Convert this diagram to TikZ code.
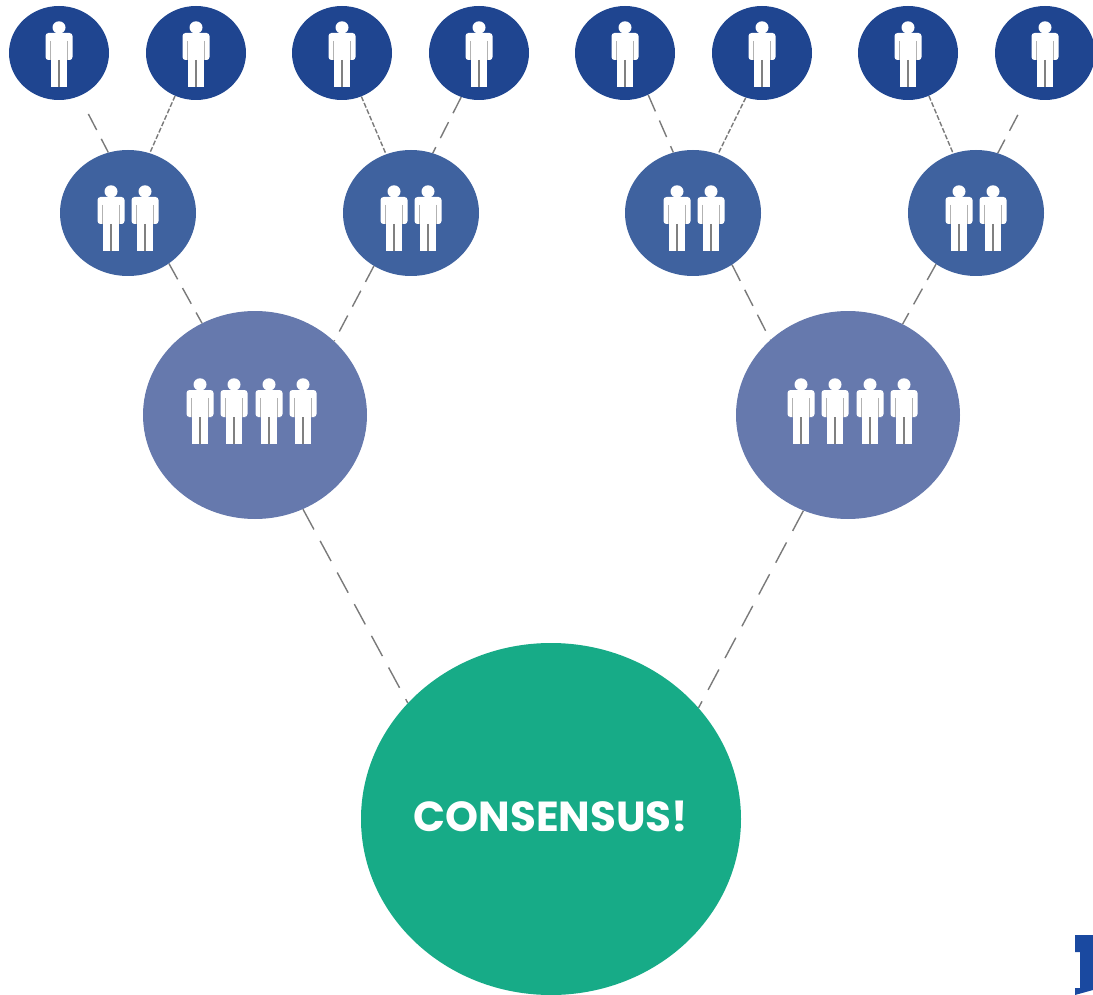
\documentclass[tikz,border=0pt]{standalone}
\usepackage{fontspec}
\setmainfont{Poppins}
\usetikzlibrary{shapes.geometric,backgrounds}
\definecolor{topblue}{HTML}{1F4590}
\definecolor{midblue}{HTML}{3F629F}
\definecolor{bigblue}{HTML}{6679AD}
\definecolor{consgreen}{HTML}{17AB87}
\definecolor{logoblue}{HTML}{1A49A0}
\definecolor{linkgrey}{HTML}{7A7A7A}
\tikzset{
  blob/.style={shape=ellipse,inner sep=0pt,draw=none},
  topnode/.style={blob,fill=topblue,minimum width=100pt,minimum height=94pt},
  midnode/.style={blob,fill=midblue,minimum width=136pt,minimum height=126pt},
  bignode/.style={blob,fill=bigblue,minimum width=224pt,minimum height=208pt},
  consnode/.style={blob,fill=consgreen,minimum width=380pt,minimum height=352pt},
  link/.style={draw=linkgrey,line width=1.4pt},
  longdash/.style={link,dash pattern=on 23pt off 13pt},
  middash/.style={link,dash pattern=on 18pt off 10pt},
  fine/.style={link,dash pattern=on 5pt off 2pt},
  person/.pic={
    \fill[white] (0,6.5) ellipse (6.5 and 6.2);
    \fill[white,rounded corners=3pt] (-13.5,39) -- (-13.5,12) -- (13.5,12) -- (13.5,39) -- (8.5,39) -- (-8.5,39) -- cycle;
    \fill[white] (-8.2,30) rectangle (8.2,66);
    \draw[gray,line width=1.1pt] (0,39) -- (0,66);
    \draw[gray!60,line width=.9pt] (-8.3,20) -- (-8.3,39) (8.3,20) -- (8.3,39);
  }
}
\begin{document}
\begin{tikzpicture}[x=1pt,y=-1pt]
\useasboundingbox (0,0) rectangle (1093,995);
% nodes
\node[topnode] (t1) at (59,53) {};
\node[topnode] (t2) at (196,53) {};
\node[topnode] (t3) at (342,53) {};
\node[topnode] (t4) at (479,53) {};
\node[topnode] (t5) at (625,53) {};
\node[topnode] (t6) at (762,53) {};
\node[topnode] (t7) at (908,53) {};
\node[topnode] (t8) at (1045,53) {};
\node[midnode] (m1) at (128,213) {};
\node[midnode] (m2) at (411,213) {};
\node[midnode] (m3) at (693,213) {};
\node[midnode] (m4) at (976,213) {};
\node[bignode] (b1) at (255,415) {};
\node[bignode] (b2) at (848,415) {};
\node[consnode] (c) at (551,819) {};
\node[text=white,font=\fontsize{42}{42}\selectfont\bfseries,inner sep=0pt] (ctext) at (551,816) {CONSENSUS!};
% people
\foreach \x in {59,196,342,479,625,762,908,1045} \pic at (\x,21) {person};
\foreach \x in {111,145,394,428,677,711,959,993} \pic at (\x,185) {person};
\foreach \x in {200,234,269,303,801,835,870,904} \pic at (\x,378) {person};
% logo fragment
\fill[logoblue] (1075,935) -- (1093,935) -- (1093,990) -- (1075,995) -- (1075,988) -- (1080,988) -- (1080,952) -- (1075,952) -- cycle;
% connectors
\begin{scope}[on background layer]
\draw[middash,shorten <=20pt] (t1.-65) -- (m1.108);
\draw[fine] (t2.-116.6) -- (m1.70);
\draw[fine] (t3.-66.6) -- (m2.113);
\draw[middash] (t4.-112.7) -- (m2.70);
\draw[middash] (t5.-61.7) -- (m3.108);
\draw[fine] (t6.-110.7) -- (m3.67.4);
\draw[fine] (t7.-64.5) -- (m4.111);
\draw[middash,shorten <=20pt] (t8.-112.7) -- (m4.70);
\draw[middash] (m1.-51.3) -- (b1.120.5);
\draw[middash] (m2.-125.5) -- (b1.43);
\draw[middash] (m3.-53.7) -- (b2.136);
\draw[middash] (m4.-128.3) -- (b2.59);
\draw[longdash] (b1.-63.7) -- (c.141.8);
\draw[longdash] (b2.-115.3) -- (c.37.6);
\end{scope}
\end{tikzpicture}
\end{document}
